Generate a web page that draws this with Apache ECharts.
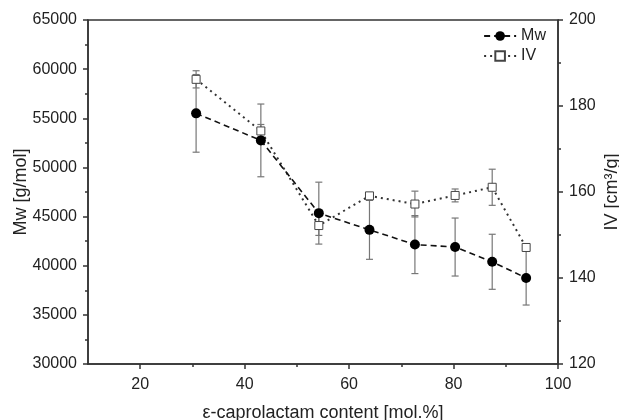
<!DOCTYPE html>
<html>
<head>
<meta charset="utf-8">
<script src="https://cdn.jsdelivr.net/npm/echarts@6/dist/echarts.min.js"></script>
<style>
  html, body { margin: 0; padding: 0; background: #fff; }
  #main { width: 619px; height: 420px; }
</style>
</head>
<body>
<div id="main"></div>
<script>
// ε-caprolactam content [mol.%]
var content = [30.7, 43.1, 54.2, 63.9, 72.6, 80.3, 87.4, 93.9];
// Mw [g/mol] and its error
var mw = [55500, 52750, 45350, 43650, 42150, 41900, 40400, 38750];
var mwErr = [3950, 3700, 3150, 3000, 2950, 2950, 2800, 2750];
// IV [cm3/g] and its error
var iv = [186.2, 174.2, 152.2, 159.1, 157.2, 159.2, 161.1, 147.1];
var ivErr = [2.0, 1.5, 2.3, 0.7, 3.0, 1.5, 4.2, 0.6];

var xMajor = [20, 40, 60, 80, 100];
var xMinor = [30, 50, 70, 90];

var font = 'Liberation Sans, Arial, sans-serif';
var textColor = '#222';
var axisColor = '#333';

var chartDom = document.getElementById('main');
var myChart = echarts.init(chartDom);

function pairs(xs, ys) {
  return xs.map(function (x, i) { return [x, ys[i]]; });
}
function errData(xs, ys, es) {
  return xs.map(function (x, i) { return [x, ys[i], es[i]]; });
}

// error bar with caps
function renderErr(params, api) {
  var x = api.value(0), y = api.value(1), e = api.value(2);
  var top = api.coord([x, y + e]);
  var bot = api.coord([x, y - e]);
  var w = 3.5;
  var style = { stroke: '#777', lineWidth: 1.2 };
  return {
    type: 'group',
    children: [
      { type: 'line', shape: { x1: top[0], y1: top[1], x2: bot[0], y2: bot[1] }, style: style },
      { type: 'line', shape: { x1: top[0] - w, y1: top[1], x2: top[0] + w, y2: top[1] }, style: style },
      { type: 'line', shape: { x1: bot[0] - w, y1: bot[1], x2: bot[0] + w, y2: bot[1] }, style: style }
    ]
  };
}

var tickText = { color: textColor, fontFamily: font, fontSize: 16 };
var nameText = { color: textColor, fontFamily: font, fontSize: 18 };

var option = {
  animation: false,
  backgroundColor: '#fff',
  grid: {
    left: 88,
    right: 61,
    top: 20,
    bottom: 56,
    outerBoundsMode: 'none',
    containLabel: false,
    show: true,
    borderColor: axisColor,
    borderWidth: 1.5
  },
  legend: {
    orient: 'vertical',
    right: 68,
    top: 23,
    itemWidth: 32,
    itemHeight: 12,
    itemGap: 4,
    textStyle: { color: textColor, fontFamily: font, fontSize: 16 },
    data: ['Mw', 'IV']
  },
  xAxis: [
    {
      type: 'value',
      min: 10,
      max: 100,
      interval: 10,
      name: 'ε-caprolactam content [mol.%]',
      nameLocation: 'middle',
      nameGap: 40,
      nameTextStyle: nameText,
      axisLine: { onZero: false, lineStyle: { color: axisColor, width: 1.5 } },
      axisTick: { customValues: xMajor, length: 5, lineStyle: { color: axisColor, width: 1.5 } },
      axisLabel: Object.assign({ customValues: xMajor, margin: 13 }, tickText),
      splitLine: { show: false }
    },
    {
      type: 'value',
      position: 'bottom',
      min: 10,
      max: 100,
      interval: 10,
      axisLine: { show: false },
      axisTick: { customValues: xMinor, length: 3, lineStyle: { color: axisColor, width: 1.5 } },
      axisLabel: { show: false },
      splitLine: { show: false }
    }
  ],
  yAxis: [
    {
      type: 'value',
      min: 30000,
      max: 65000,
      interval: 5000,
      name: 'Mw [g/mol]',
      nameLocation: 'middle',
      nameGap: 58,
      nameMoveOverlap: false,
      nameRotate: 90,
      nameTextStyle: nameText,
      axisLine: { show: true, lineStyle: { color: axisColor, width: 1.5 } },
      axisTick: { show: true, length: 5, lineStyle: { color: axisColor, width: 1.5 } },
      minorTick: { show: true, splitNumber: 2, length: 3, lineStyle: { color: axisColor, width: 1.5 } },
      axisLabel: Object.assign({ margin: 11, formatter: function (v) { return String(v); } }, tickText),
      splitLine: { show: false }
    },
    {
      type: 'value',
      position: 'right',
      min: 120,
      max: 200,
      interval: 20,
      name: 'IV [cm³/g]',
      nameLocation: 'middle',
      nameGap: 45,
      nameMoveOverlap: false,
      nameRotate: 90,
      nameTextStyle: nameText,
      axisLine: { show: true, lineStyle: { color: axisColor, width: 1.5 } },
      axisTick: { show: true, length: 5, lineStyle: { color: axisColor, width: 1.5 } },
      minorTick: { show: true, splitNumber: 2, length: 3, lineStyle: { color: axisColor, width: 1.5 } },
      axisLabel: Object.assign({ margin: 11 }, tickText),
      splitLine: { show: false }
    }
  ],
  series: [
    {
      type: 'custom',
      xAxisIndex: 0,
      yAxisIndex: 1,
      renderItem: renderErr,
      data: errData(content, iv, ivErr),
      z: 1
    },
    {
      type: 'custom',
      xAxisIndex: 0,
      yAxisIndex: 0,
      renderItem: renderErr,
      data: errData(content, mw, mwErr),
      z: 1
    },
    {
      name: 'IV',
      type: 'line',
      xAxisIndex: 0,
      yAxisIndex: 1,
      data: pairs(content, iv),
      symbol: 'rect',
      symbolSize: 8,
      itemStyle: { color: '#fff', borderColor: '#444', borderWidth: 1 },
      lineStyle: { color: '#333', width: 2, type: [2, 4] },
      z: 3
    },
    {
      name: 'Mw',
      type: 'line',
      xAxisIndex: 0,
      yAxisIndex: 0,
      data: pairs(content, mw),
      symbol: 'circle',
      symbolSize: 10,
      itemStyle: { color: '#000', borderColor: '#000', borderWidth: 0 },
      lineStyle: { color: '#111', width: 1.6, type: [6, 4] },
      z: 4
    }
  ]
};

myChart.setOption(option);
</script>
</body>
</html>
